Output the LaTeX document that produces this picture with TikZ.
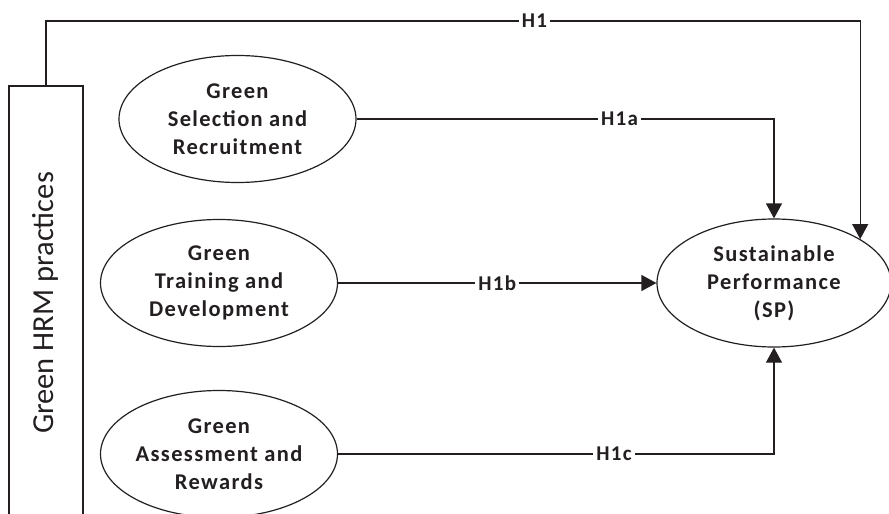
\documentclass[tikz,border=0pt]{standalone}
\usepackage{fontspec}
\setmainfont{Carlito}
\newfontfamily\spaced[LetterSpace=6]{Carlito}
\usetikzlibrary{shapes.geometric,arrows.meta}
\definecolor{ink}{HTML}{231F20}
\begin{document}
\begin{tikzpicture}[x=1pt,y=-1pt,
  every node/.style={text=ink},
  oval/.style={draw=ink, line width=1.2pt, ellipse, minimum width=237pt, minimum height=127pt,
    inner sep=0pt, align=center, font=\spaced\bfseries\fontsize{22.5}{28}\selectfont},
  lab/.style={fill=white, inner sep=3pt, font=\spaced\bfseries\fontsize{21}{22}\selectfont},
  conn/.style={draw=ink, line width=1.2pt},
  arr/.style={conn, -{Triangle[length=15pt,width=16pt]}}]
\clip (0,0) rectangle (889,514);
\node[draw=ink, line width=1.2pt, minimum width=74pt, minimum height=444pt, inner sep=0pt] (hrm) at (46,308) {};
\node[rotate=90, anchor=base, font=\fontsize{30.5}{34}\selectfont] (hrmtext) at (53,303) {Green HRM practices};
\node[oval] (e1) at (237.5,119) {Green\\Selection and\\Recruitment};
\node[oval] (e2) at (219,283) {Green\\Training and\\Development};
\node[oval] (e3) at (219,454) {Green\\Assessment and\\Rewards};
\node[oval, minimum width=234pt, minimum height=128pt] (sp) at (774,283) {Sustainable\\Performance\\(SP)};
\coordinate (toprow) at (0,21);
\draw[arr] (hrm.north) -- (hrm.north |- toprow) -- node[lab,pos=0.6]{H1} (sp.27.4 |- toprow) -- (sp.27.4);
\draw[arr] (e1.east) -- node[lab,pos=0.63]{H1a} (sp.north |- e1.east) -- (sp.north);
\draw[arr] (e2.east) -- node[lab,pos=0.5]{H1b} (sp.west);
\draw[arr] (e3.east) -- node[lab,pos=0.633]{H1c} (sp.south |- e3.east) -- (sp.south);
\end{tikzpicture}
\end{document}
